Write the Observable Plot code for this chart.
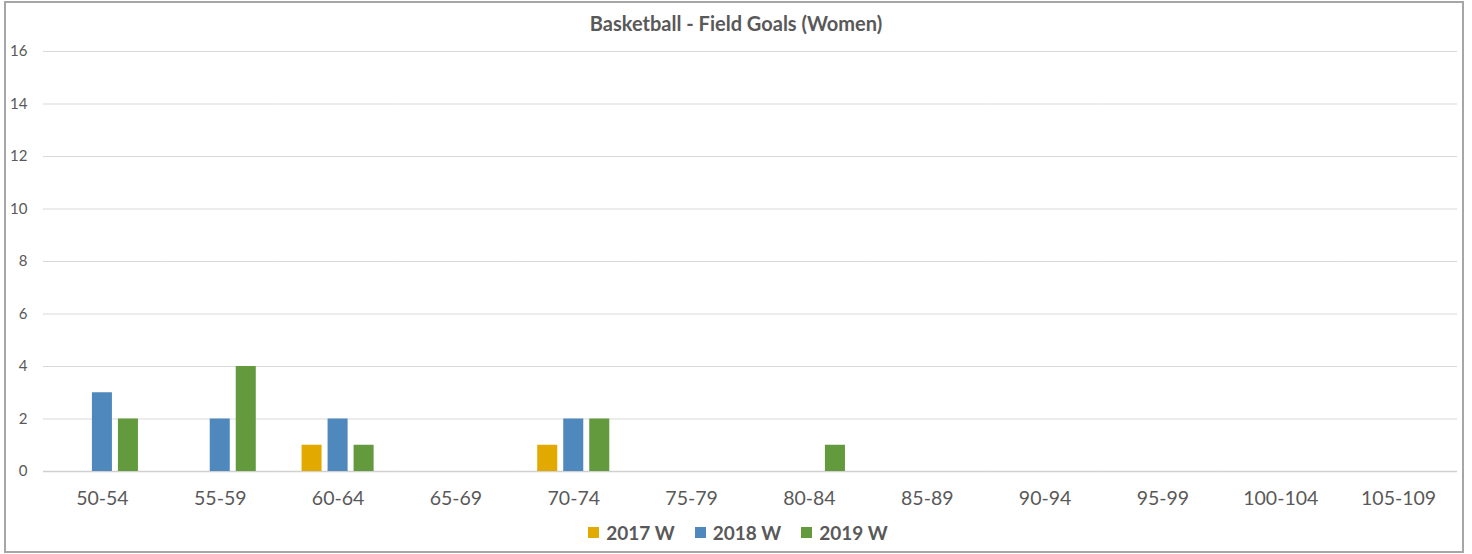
<!DOCTYPE html>
<html>
<head>
<meta charset="utf-8">
<script src="https://cdn.jsdelivr.net/npm/d3@7"></script>
<script src="https://cdn.jsdelivr.net/npm/@observablehq/plot@0.6"></script>
<style>
  html, body { margin: 0; padding: 0; background: #fff; }
  body { width: 1472px; height: 554px; position: relative; overflow: hidden; font-family: Lato, "Open Sans", sans-serif; }
  #frame { position: absolute; left: 4px; top: 1px; width: 1460px; height: 552px; box-sizing: border-box; border: 2px solid #a6a6a6; }
  #title { position: absolute; left: 0; top: 11px; width: 1472px; text-align: center; font-weight: 700; font-size: 20px; color: #595959; }
  #chart { position: absolute; left: 0; top: 40px; }
  #legend { position: absolute; left: 0; top: 521px; width: 1476px; display: flex; justify-content: center; align-items: center; font-weight: 700; font-size: 19px; color: #595959; }
  .item { display: flex; align-items: center; margin: 0 10px; }
  .sw { width: 11px; height: 11px; margin-right: 7px; }
</style>
</head>
<body>
<div id="frame"></div>
<div id="title">Basketball - Field Goals (Women)</div>
<div id="chart"></div>
<div id="legend"></div>
<script>
const categories = ["50-54","55-59","60-64","65-69","70-74","75-79","80-84","85-89","90-94","95-99","100-104","105-109"];
const series = ["2017 W","2018 W","2019 W"];
const colors = ["#E2AA00","#4F88BD","#629A3D"];
const values2017 = [0,0,1,0,1,0,0,0,0,0,0,0];
const values2018 = [3,2,2,0,2,0,0,0,0,0,0,0];
const values2019 = [2,4,1,0,2,0,1,0,0,0,0,0];
const yTicks = [0,2,4,6,8,10,12,14,16];

const seriesValues = [values2017, values2018, values2019];
const data = [];
categories.forEach((c, i) => {
  series.forEach((s, j) => {
    data.push({category: c, series: s, value: seriesValues[j][i]});
  });
});

const chart = Plot.plot({
  width: 1472,
  height: 480,
  marginLeft: 43,
  marginRight: 15,
  marginTop: 11,
  marginBottom: 49,
  style: {fontFamily: "Lato, 'Open Sans', sans-serif", fontSize: "14px", color: "#595959", background: "transparent"},
  fx: {domain: categories, padding: 0, round: false, label: null},
  x: {domain: series, paddingInner: 0.23, paddingOuter: 0.88, round: false, axis: null},
  y: {domain: [0, 16], label: null},
  color: {domain: series, range: colors},
  marks: [
    Plot.gridY(yTicks, {stroke: "#d9d9d9", strokeOpacity: 1}),
    Plot.ruleY([0], {stroke: "#d0d0d0", strokeWidth: 1.3}),
    Plot.barY(data, {fx: "category", x: "series", y: "value", fill: "series"}),
    Plot.axisY(yTicks, {tickSize: 0, tickPadding: 16, fontSize: 15, label: null}),
    Plot.axisFx({anchor: "bottom", tickSize: 0, tickPadding: 20, fontSize: 19.5, label: null})
  ]
});
document.getElementById("chart").appendChild(chart);

const legend = document.getElementById("legend");
series.forEach((s, i) => {
  const item = document.createElement("div");
  item.className = "item";
  const sw = document.createElement("div");
  sw.className = "sw";
  sw.style.background = colors[i];
  const label = document.createElement("span");
  label.textContent = s;
  item.appendChild(sw);
  item.appendChild(label);
  legend.appendChild(item);
});
</script>
</body>
</html>
